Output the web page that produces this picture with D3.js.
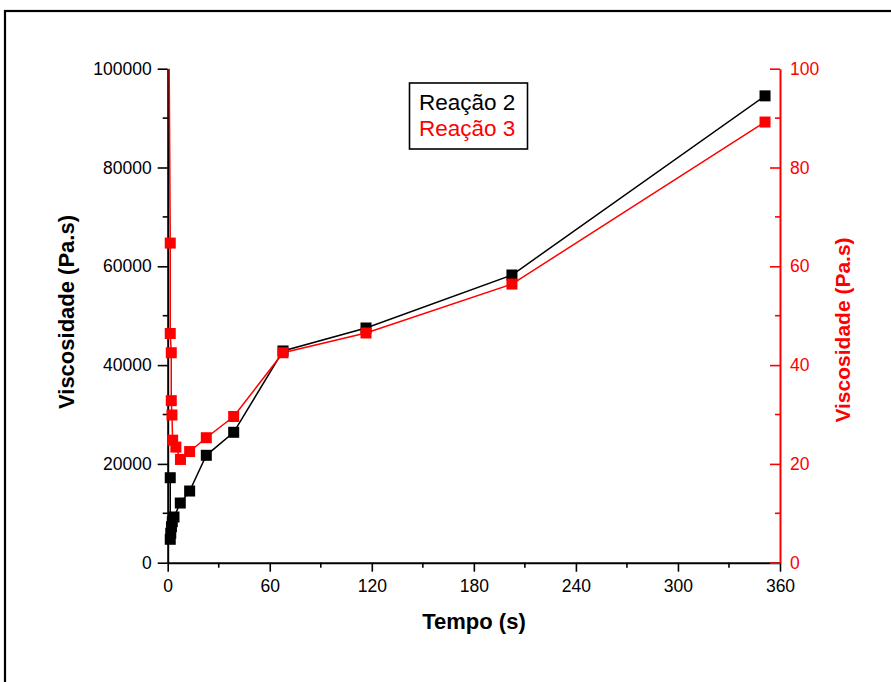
<!DOCTYPE html>
<html>
<head>
<meta charset="utf-8">
<script src="https://cdn.jsdelivr.net/npm/d3@7"></script>
<style>
  html, body { margin: 0; padding: 0; background: #fff; }
  svg { display: block; font-family: "Liberation Sans", Arial, sans-serif; }
</style>
</head>
<body>
<svg id="chart" width="891" height="682"></svg>
<script>
// Sampling times (s) for Reação 2
const tempo = [0, 1.5, 1.5, 1.8, 2.2, 2.7, 3.7, 7.4, 12.9, 22.7, 38.8, 67.8, 116.6, 202.4, 351.2];

// Reação 2 viscosity (Pa.s), left axis
const reacao2 = [null, 17200, 4740, 5950, 7290, 8300, 9250, 12080, 14510, 21740, 26400, 42860, 47510, 58240, 94500];

// Reação 3 viscosity (Pa.s), right axis, and its sampling times
const reacao3 = [150, 64.7, 46.4, 42.5, 32.8, 29.9, 24.8, 23.4, 20.9, 22.5, 25.3, 29.6, 42.5, 46.5, 56.4, 89.2];
const tempo3  = [0, 1.5, 1.5, 2.1, 2.1, 2.5, 2.9, 4.8, 7.5, 12.9, 22.7, 38.8, 67.8, 116.6, 202.4, 351.2];

const xTicks = [0, 60, 120, 180, 240, 300, 360];
const yLeftTicks = [0, 20000, 40000, 60000, 80000, 100000];
const yRightTicks = [0, 20, 40, 60, 80, 100];
const legendLabels = ["Reação 2", "Reação 3"];
const colors = ["#000000", "#ff0000"];

const svg = d3.select("#chart");
const L = 167.7, R = 780, T = 68.7, B = 562.7;

const x = d3.scaleLinear().domain([0, 360]).range([L, R]);
const yL = d3.scaleLinear().domain([0, 100000]).range([B, T]);
const yR = d3.scaleLinear().domain([0, 100]).range([B, T]);

// Outer frame
svg.append("rect")
  .attr("x", 5).attr("y", 11).attr("width", 950).attr("height", 750)
  .attr("fill", "none").attr("stroke", "#000").attr("stroke-width", 2.2);

svg.append("clipPath").attr("id", "plot")
  .append("rect").attr("x", L).attr("y", T).attr("width", R - L).attr("height", B - T);

// Minor ticks helper
function minor(g, values, pos, len, dir, orient, color) {
  g.selectAll(null).data(values).join("line")
    .attr(orient === "h" ? "x1" : "y1", d => pos(d))
    .attr(orient === "h" ? "x2" : "y2", d => pos(d))
    .attr(orient === "h" ? "y1" : "x1", 0)
    .attr(orient === "h" ? "y2" : "x2", dir * len)
    .attr("stroke", color).attr("stroke-width", 1.6);
}

// Bottom axis
const gx = svg.append("g").attr("transform", `translate(0,${B})`)
  .call(d3.axisBottom(x).tickValues(xTicks).tickSize(9).tickPadding(8).tickSizeOuter(0));
minor(gx, d3.range(30, 360, 60), x, 5, 1, "h", "#000");

// Left axis
const gy = svg.append("g").attr("transform", `translate(${L},0)`)
  .call(d3.axisLeft(yL).tickValues(yLeftTicks).tickSize(10).tickPadding(6).tickSizeOuter(0).tickFormat(d3.format("d")));
minor(gy, d3.range(10000, 100000, 20000), yL, 5, -1, "v", "#000");

// Right axis (red, inward ticks)
const gr = svg.append("g").attr("transform", `translate(${R},0)`)
  .call(d3.axisRight(yR).tickValues(yRightTicks).tickSizeInner(-10).tickSizeOuter(0).tickPadding(10));
minor(gr, d3.range(10, 100, 20), yR, 5, -1, "v", "#ff0000");

[gx, gy, gr].forEach(g => {
  g.selectAll("path.domain").attr("stroke-width", 2);
  g.selectAll(".tick line").attr("stroke-width", 1.6);
  g.selectAll("text").attr("font-size", 17.5).attr("font-family", "Liberation Sans, Arial, sans-serif");
});
gx.selectAll("text").attr("fill", "#000");
gy.selectAll("text").attr("fill", "#000");
gr.selectAll("path.domain, .tick line").attr("stroke", "#ff0000");
gr.selectAll("text").attr("fill", "#ff0000");

// Series
const s2 = tempo.map((t, i) => ({ t, v: reacao2[i] })).filter(d => d.v !== null);
const s3 = tempo3.map((t, i) => ({ t, v: reacao3[i] }));

const plot = svg.append("g").attr("clip-path", "url(#plot)");
const line2 = d3.line().x(d => x(d.t)).y(d => yL(d.v));
const line3 = d3.line().x(d => x(d.t)).y(d => yR(d.v));

plot.append("path").datum(s2).attr("d", line2)
  .attr("fill", "none").attr("stroke", colors[0]).attr("stroke-width", 1.5);
plot.append("path").datum(s3).attr("d", line3)
  .attr("fill", "none").attr("stroke", colors[1]).attr("stroke-width", 1.5);

const sz = 11;
svg.append("g").selectAll("rect").data(s2).join("rect")
  .attr("x", d => x(d.t) - sz / 2).attr("y", d => yL(d.v) - sz / 2)
  .attr("width", sz).attr("height", sz).attr("fill", colors[0]);
svg.append("g").selectAll("rect").data(s3.filter(d => d.v <= 100)).join("rect")
  .attr("x", d => x(d.t) - sz / 2).attr("y", d => yR(d.v) - sz / 2)
  .attr("width", sz).attr("height", sz).attr("fill", colors[1]);

// Axis titles
svg.append("text").attr("x", 474).attr("y", 629)
  .attr("text-anchor", "middle").attr("font-weight", "bold").attr("font-size", 22)
  .text("Tempo (s)");
svg.append("text").attr("transform", `translate(74,312) rotate(-90)`)
  .attr("text-anchor", "middle").attr("font-weight", "bold").attr("font-size", 22)
  .text("Viscosidade (Pa.s)");
svg.append("text").attr("transform", `translate(850,330) rotate(-90)`)
  .attr("text-anchor", "middle").attr("font-weight", "bold").attr("font-size", 21)
  .attr("fill", "#ff0000")
  .text("Viscosidade (Pa.s)");

// Legend
const lg = svg.append("g");
lg.append("rect").attr("x", 409.5).attr("y", 83).attr("width", 118).attr("height", 66)
  .attr("fill", "#fff").attr("stroke", "#000").attr("stroke-width", 1.6);
lg.selectAll("text").data(legendLabels).join("text")
  .attr("x", 419).attr("y", (d, i) => 110 + i * 26)
  .attr("font-size", 22.5).attr("fill", (d, i) => colors[i])
  .text(d => d);
</script>
</body>
</html>
